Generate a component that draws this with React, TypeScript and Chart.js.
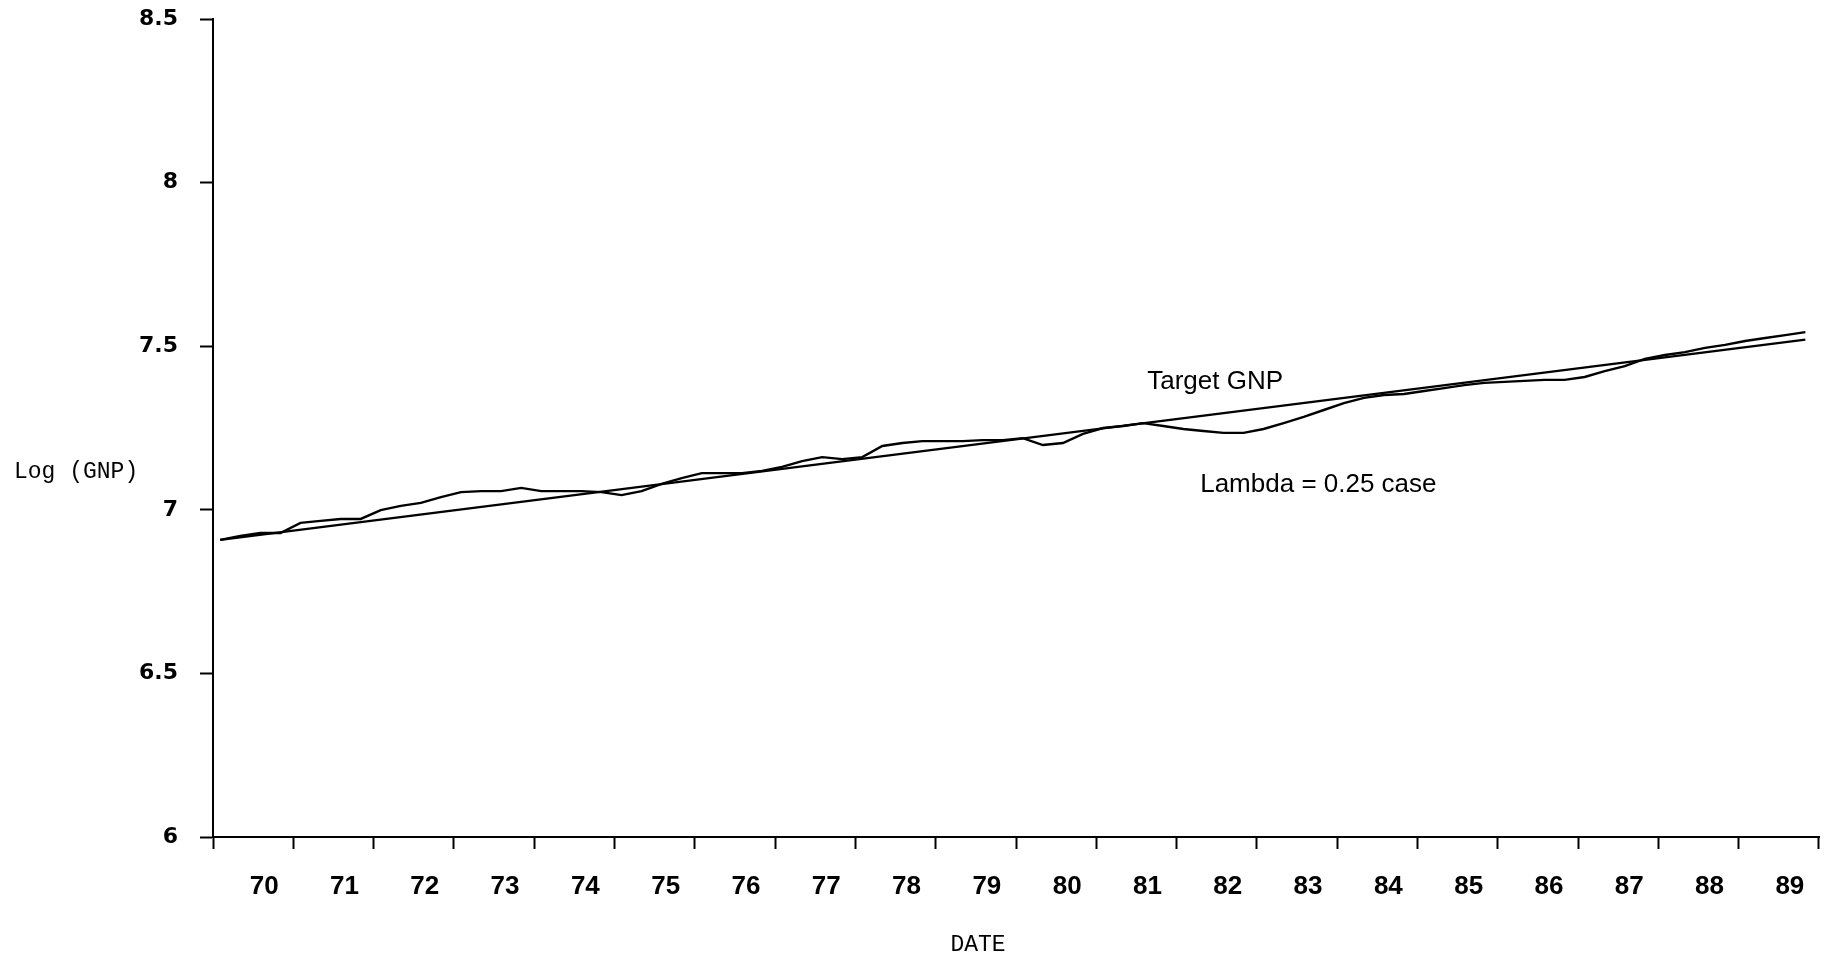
import React, { useEffect, useRef } from "react";
import { Chart, registerables } from "chart.js";

Chart.register(...registerables);

// ---- data ----
const yearLabels = [
  "70", "71", "72", "73", "74", "75", "76", "77", "78", "79",
  "80", "81", "82", "83", "84", "85", "86", "87", "88", "89",
];

const yTickValues = [6, 6.5, 7, 7.5, 8, 8.5];

const firstQuarterYear = 1970;

// Log(GNP), Lambda = 0.25 case, quarterly 1970Q1 .. 1989Q4
const gnpValues = [
  6.908, 6.92, 6.929, 6.929, 6.96, 6.966, 6.972, 6.972,
  6.999, 7.012, 7.021, 7.039, 7.054, 7.057, 7.057, 7.067,
  7.057, 7.057, 7.057, 7.054, 7.045, 7.057, 7.079, 7.097,
  7.112, 7.112, 7.112, 7.119, 7.131, 7.149, 7.161, 7.155,
  7.161, 7.195, 7.204, 7.21, 7.21, 7.21, 7.213, 7.213,
  7.219, 7.198, 7.204, 7.232, 7.25, 7.256, 7.265, 7.256,
  7.247, 7.241, 7.235, 7.235, 7.247, 7.265, 7.284, 7.305,
  7.326, 7.342, 7.351, 7.354, 7.363, 7.372, 7.381, 7.388,
  7.391, 7.394, 7.397, 7.397, 7.406, 7.424, 7.439, 7.461,
  7.473, 7.482, 7.495, 7.504, 7.516, 7.525, 7.534, 7.543,
];

// Target GNP is a straight trend line
const targetTimes = [1970.0, 1989.75];
const targetValues = [6.908, 7.52];

const annotationTexts = ["Target GNP", "Lambda = 0.25 case"];
const annotationX = [1981.55, 1982.21];
const annotationY = [7.39, 7.076];

const yAxisTitle = "Log (GNP)";
const xAxisTitle = "DATE";

export default function App() {
  const canvasRef = useRef<HTMLCanvasElement | null>(null);

  useEffect(() => {
    const canvas = canvasRef.current;
    if (!canvas) return;

    const gnpPoints = gnpValues.map((v, i) => ({ x: firstQuarterYear + i / 4, y: v }));
    const targetPoints = targetValues.map((v, i) => ({ x: targetTimes[i], y: v }));

    const textPlugin = {
      id: "textPlugin",
      afterDraw(chart: any) {
        const ctx = chart.ctx;
        const xs = chart.scales.xq;
        const ys = chart.scales.y;
        ctx.save();
        ctx.fillStyle = "#000";
        ctx.textBaseline = "middle";
        ctx.textAlign = "left";
        ctx.font = "26px 'Liberation Sans', Arial, sans-serif";
        annotationTexts.forEach((t, i) => {
          ctx.fillText(t, xs.getPixelForValue(annotationX[i]), ys.getPixelForValue(annotationY[i]));
        });
        ctx.font = "23px 'Liberation Mono', 'Courier New', monospace";
        ctx.textAlign = "left";
        ctx.fillText(yAxisTitle, 14, 472);
        ctx.textAlign = "center";
        ctx.fillText(xAxisTitle, 978, 945);
        ctx.restore();
      },
    };

    const chart = new Chart(canvas, {
      type: "line",
      data: {
        datasets: [
          {
            label: "Target GNP",
            data: targetPoints,
            xAxisID: "xq",
            yAxisID: "y",
            borderColor: "#000",
            borderWidth: 2.4,
            pointRadius: 0,
            fill: false,
            tension: 0,
          },
          {
            label: "Lambda = 0.25 case",
            data: gnpPoints,
            xAxisID: "xq",
            yAxisID: "y",
            borderColor: "#000",
            borderWidth: 2.4,
            pointRadius: 0,
            fill: false,
            tension: 0,
          },
        ],
      },
      options: {
        animation: false,
        responsive: true,
        maintainAspectRatio: false,
        devicePixelRatio: 1,
        layout: { padding: { top: 19, right: 9, bottom: 0, left: 0 } },
        plugins: {
          legend: { display: false },
          tooltip: { enabled: false },
        },
        scales: {
          x: {
            type: "category",
            labels: yearLabels,
            position: "bottom",
            offset: true,
            afterFit: (scale: any) => {
              scale.height = 123;
            },
            grid: {
              offset: true,
              drawOnChartArea: false,
              drawTicks: true,
              tickLength: 12,
              tickWidth: 2,
              tickColor: "#000",
              color: "#000",
            },
            border: { display: true, color: "#000", width: 2 },
            ticks: {
              color: "#000",
              padding: 22,
              labelOffset: 11,
              maxRotation: 0,
              autoSkip: false,
              font: { family: "'Liberation Sans', Arial, sans-serif", size: 26, weight: "bold" },
            },
          },
          xq: {
            type: "linear",
            position: "bottom",
            display: false,
            min: 1969.91,
            max: 1989.92,
          },
          y: {
            type: "linear",
            position: "left",
            min: 6,
            max: 8.5,
            afterFit: (scale: any) => {
              scale.width = 213;
              scale.paddingTop = 10;
              scale.paddingBottom = 10;
            },
            afterBuildTicks: (scale: any) => {
              scale.ticks = yTickValues.map((v) => ({ value: v }));
            },
            grid: {
              drawOnChartArea: false,
              drawTicks: true,
              tickLength: 13,
              tickWidth: 2,
              tickColor: "#000",
              color: "#000",
            },
            border: { display: true, color: "#000", width: 2 },
            ticks: {
              color: "#000",
              padding: 22,
              font: { family: "'DejaVu Sans', sans-serif", size: 22, weight: "bold" },
              callback: (v: any) => String(v),
            },
          },
        },
      },
      plugins: [textPlugin],
    });

    return () => {
      chart.destroy();
    };
  }, []);

  return (
    <div style={{ position: "absolute", left: 0, top: 0, width: 1828, height: 960, background: "#fff" }}>
      <canvas ref={canvasRef} />
    </div>
  );
}
